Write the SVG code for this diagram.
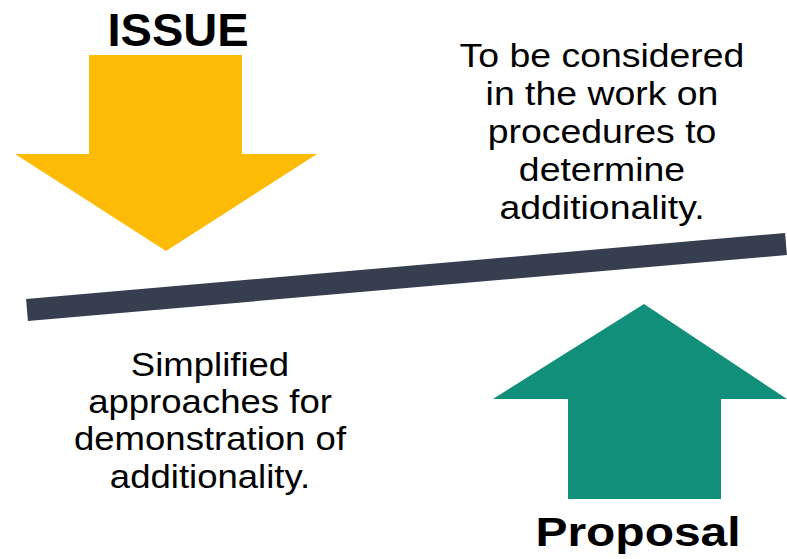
<svg xmlns="http://www.w3.org/2000/svg" width="787" height="559" viewBox="0 0 787 559">
<style>
.t{font-family:"Liberation Sans",Arial,sans-serif;font-size:34px;fill:#000;text-anchor:middle}
.h{font-family:"Liberation Sans",Arial,sans-serif;font-weight:bold;fill:#000;text-anchor:middle}
</style>
<rect width="787" height="559" fill="#fff"/>
<g id="issue">
<polygon points="89,55 242,55 242,154 317,154 166,251 15,154 89,154" fill="#FDBB05"/>
<text class="h" x="178" y="46" font-size="47">ISSUE</text>
</g>
<g id="proposal">
<polygon points="568,499 721,499 721,399 787,399 644,304 493,399 568,399" fill="#128F7A"/>
<text class="h" font-size="41" transform="translate(638,546) scale(1.17,1)" x="0" y="0">Proposal</text>
</g>
<g id="connectors">
<line x1="27" y1="310" x2="786" y2="244" stroke="#353F50" stroke-width="22"/>
</g>
<g id="note-top" transform="translate(602,0) scale(1.1,1)">
<text class="t" x="0" y="67">To be considered</text>
<text class="t" x="0" y="105">in the work on</text>
<text class="t" x="0" y="143">procedures to</text>
<text class="t" x="0" y="181">determine</text>
<text class="t" x="0" y="219">additionality.</text>
</g>
<g id="note-bottom" transform="translate(210,0) scale(1.075,1)">
<text class="t" x="0" y="376">Simplified</text>
<text class="t" x="0" y="413">approaches for</text>
<text class="t" x="0" y="450">demonstration of</text>
<text class="t" x="0" y="488">additionality.</text>
</g>
</svg>
